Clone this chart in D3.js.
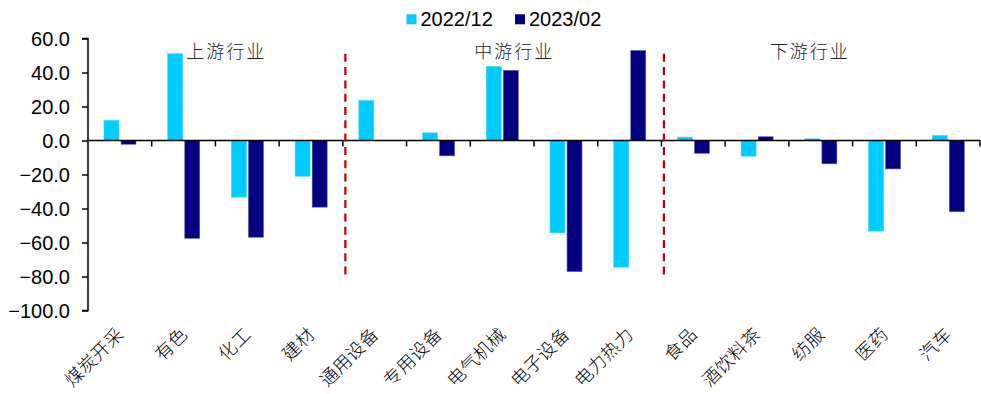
<!DOCTYPE html>
<html>
<head>
<meta charset="utf-8">
<script src="https://cdn.jsdelivr.net/npm/d3@7"></script>
<style>
  html, body { margin: 0; padding: 0; background: #fff; }
  svg { display: block; }
</style>
</head>
<body>
<svg id="chart" width="981" height="394"></svg>
<script>
// Industries, grouped into upstream / midstream / downstream
const categories = ["煤炭开采", "有色", "化工", "建材", "通用设备", "专用设备", "电气机械",
                    "电子设备", "电力热力", "食品", "酒饮料茶", "纺服", "医药", "汽车"];
const seriesNames = ["2022/12", "2023/02"];
const values2212 = [11.8, 51.0, -33.3, -21.0, 23.5, 4.5, 43.5, -54.3, -74.5, 2.0, -9.2, 1.0, -53.3, 2.9];
const values2302 = [-2.2, -57.5, -56.9, -39.2, 0.0, -9.0, 41.2, -77.1, 52.9, -7.5, 2.2, -13.7, -16.7, -41.9];
const yTicks = [60, 40, 20, 0, -20, -40, -60, -80, -100];
const sectionNames = ["上游行业", "中游行业", "下游行业"];
// category index where each new section begins (after the first)
const sectionBreaks = [4, 9];

const colors = ["#00CCFF", "#000080"];
const strokes = ["#33d6ff", "#5555aa"];

const svg = d3.select("#chart");
const plotLeft = 88, plotRight = 980, plotTop = 38.5, plotBottom = 310.5;

const x = d3.scaleBand().domain(categories).range([plotLeft, plotRight]).paddingInner(0).paddingOuter(0);
const y = d3.scaleLinear().domain([-100, 60]).range([plotBottom, plotTop]);
const inner = d3.scaleBand().domain(seriesNames).range([16, 48]).paddingInner(0.125);

// bars
const seriesData = [values2212, values2302];
seriesData.forEach((vals, si) => {
  svg.append("g").selectAll("rect")
    .data(vals.map((v, i) => ({ c: categories[i], v })))
    .join("rect")
    .attr("x", d => x(d.c) + inner(seriesNames[si]))
    .attr("width", inner.bandwidth())
    .attr("y", d => y(Math.max(0, d.v)))
    .attr("height", d => Math.abs(y(d.v) - y(0)))
    .attr("fill", colors[si])
    .attr("stroke", d => d.v === 0 ? "none" : strokes[si])
    .attr("stroke-width", 0.6);
});

// y axis
const yAxis = d3.axisLeft(y).tickValues(yTicks).tickFormat(d3.format(".1f")).tickSize(6).tickPadding(12);
const gy = svg.append("g").attr("transform", `translate(${plotLeft},0)`).call(yAxis);
gy.select(".domain").attr("d", `M-6,${y(60)}H0V${y(-100)}H-6`).attr("stroke", "#000").attr("stroke-width", 1.5);
gy.selectAll(".tick line").attr("stroke", "#000").attr("stroke-width", 1.5);
gy.selectAll(".tick text")
  .attr("font-family", "Liberation Sans, Arial, sans-serif")
  .attr("font-size", 20)
  .attr("fill", "#000")
  .attr("dy", "0.36em");

// x axis at zero, ticks at category boundaries
const bounds = d3.range(categories.length + 1).map(i => plotLeft + i * x.step());
const gx = svg.append("g");
gx.append("line").attr("x1", plotLeft).attr("x2", plotRight).attr("y1", y(0)).attr("y2", y(0))
  .attr("stroke", "#000").attr("stroke-width", 1.5);
gx.selectAll("line.tk").data(bounds.slice(1)).join("line").attr("class", "tk")
  .attr("x1", d => d).attr("x2", d => d).attr("y1", y(0)).attr("y2", y(0) + 6)
  .attr("stroke", "#000").attr("stroke-width", 1.5);

// category labels, rotated
svg.append("g").selectAll("text").data(categories).join("text")
  .attr("transform", d => `translate(${x(d) + x.bandwidth() / 2 + 5},${plotBottom + 25}) rotate(-45)`)
  .attr("text-anchor", "end")
  .attr("font-family", "Noto Sans CJK SC, sans-serif")
  .attr("font-weight", 300)
  .attr("font-size", 18)
  .attr("letter-spacing", 0.5)
  .attr("fill", "#000")
  .text(d => d);

// section dividers
svg.append("g").selectAll("line").data(sectionBreaks).join("line")
  .attr("x1", d => x(categories[d]) + 2.5).attr("x2", d => x(categories[d]) + 2.5)
  .attr("y1", y(51)).attr("y2", y(-82))
  .attr("stroke", "#C00000").attr("stroke-width", 2.2)
  .attr("stroke-dasharray", "8,5.3");

// section titles
const sectionPos = [2.17, 6.69, 11.33];
svg.append("g").selectAll("text").data(sectionNames).join("text")
  .attr("x", (d, i) => plotLeft + sectionPos[i] * x.step())
  .attr("y", y(53.5))
  .attr("text-anchor", "middle")
  .attr("dominant-baseline", "central")
  .attr("font-family", "Noto Sans CJK SC, sans-serif")
  .attr("font-weight", 300)
  .attr("font-size", 18)
  .attr("letter-spacing", 2)
  .attr("fill", "#222")
  .text(d => d);

// legend
const legendX = [406.5, 515];
const lg = svg.append("g");
seriesNames.forEach((n, i) => {
  lg.append("rect").attr("x", legendX[i]).attr("y", 14.3).attr("width", 10).attr("height", 10).attr("fill", colors[i]);
  lg.append("text").attr("x", legendX[i] + 14).attr("y", 26)
    .attr("font-family", "Liberation Sans, Arial, sans-serif").attr("font-size", 20).attr("fill", "#000")
    .text(n);
});
</script>
</body>
</html>
